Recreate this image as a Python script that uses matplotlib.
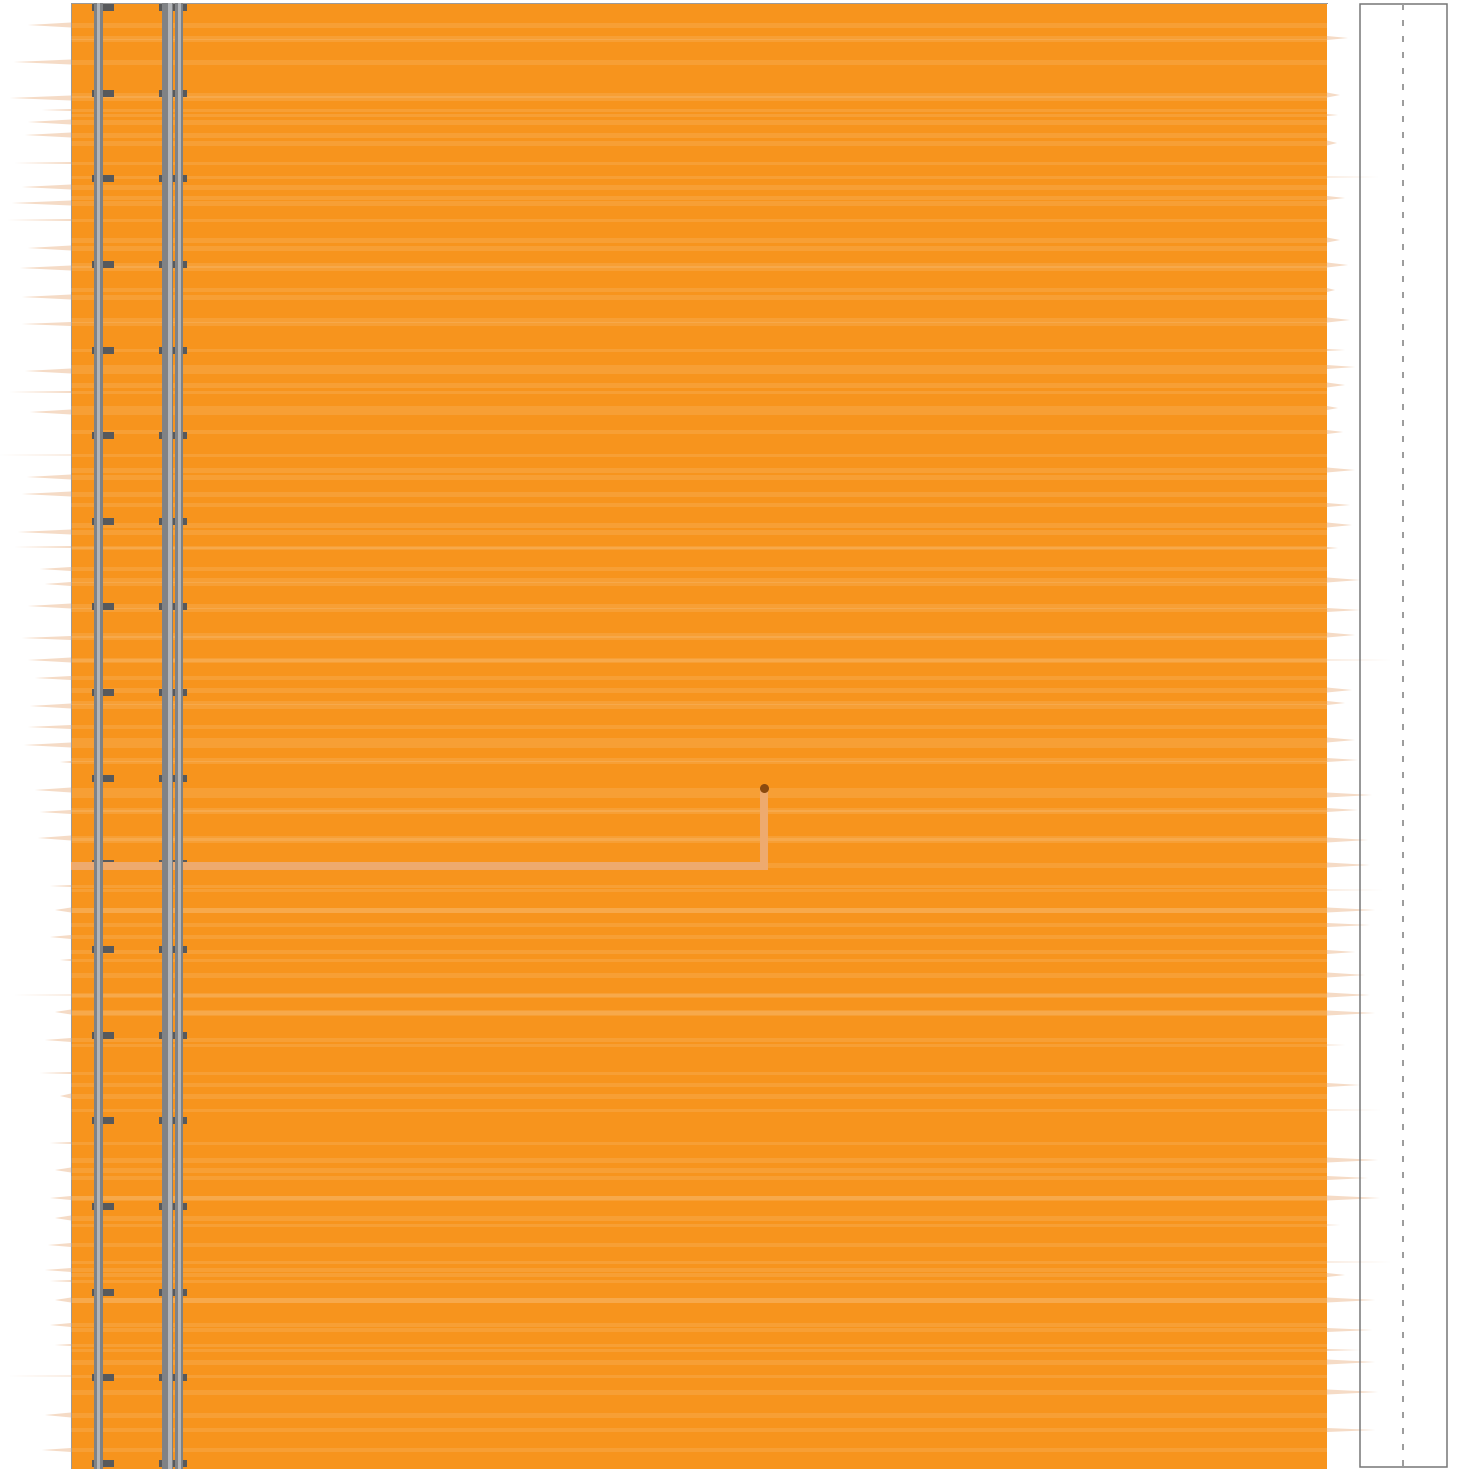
import numpy as np
import matplotlib.pyplot as plt
from matplotlib.patches import Rectangle, Polygon

# canvas in pixel units
W, H = 1462, 1469

# orange plank
plank_x = [71, 1327]
plank_y = [3, 1469]

# grain streaks that run out past the left edge: (y, left end, thickness px)
left_y = [25, 40, 62, 98, 110, 122, 135, 163, 187, 203, 220, 248, 268, 297,
          324, 371, 392, 412, 455, 477, 494, 532, 547, 569, 584, 606, 638,
          660, 678, 706, 727, 745, 762, 790, 812, 838, 886, 910, 937, 960,
          995, 1012, 1040, 1073, 1096, 1143, 1170, 1198, 1218, 1245, 1270,
          1281, 1300, 1325, 1345, 1376, 1415, 1450]
left_end = [28, 75, 14, 10, 42, 28, 25, 15, 22, 12, 8, 28, 20, 22,
            22, 25, 10, 30, 0, 27, 22, 18, 15, 40, 45, 28, 22,
            28, 35, 30, 28, 24, 60, 35, 40, 38, 50, 55, 50, 60,
            15, 55, 45, 40, 60, 50, 55, 50, 55, 48, 45,
            50, 55, 50, 55, 10, 45, 42]
left_w = [5, 2, 5, 5, 2, 5, 5, 2, 5, 5, 2, 5, 5, 5,
          4, 5, 2, 5, 1, 5, 5, 5, 2, 4, 4, 5, 4,
          5, 4, 5, 4, 5, 2, 5, 4, 5, 2, 5, 4, 2,
          1, 5, 4, 2, 5, 2, 5, 4, 5, 4, 4,
          2, 5, 4, 2, 1, 5, 4]

# grain streaks that run out past the right edge
right_y = [38, 95, 115, 143, 177, 198, 240, 265, 290, 320, 350, 367, 385,
           408, 432, 470, 505, 525, 548, 580, 610, 635, 660, 690, 703, 740,
           760, 795, 810, 840, 865, 890, 910, 925, 952, 975, 995, 1013, 1045,
           1085, 1110, 1160, 1178, 1198, 1225, 1262, 1275, 1300, 1330, 1350,
           1362, 1392, 1430]
right_end = [1348, 1340, 1338, 1337, 1378, 1345, 1340, 1348, 1335, 1350,
             1345, 1355, 1345, 1338, 1343, 1355, 1350, 1352, 1338, 1360,
             1360, 1355, 1390, 1352, 1345, 1355, 1358, 1372, 1358, 1368,
             1370, 1382, 1375, 1370, 1355, 1365, 1370, 1375, 1345, 1360,
             1380, 1378, 1368, 1380, 1340, 1390, 1345, 1375, 1372, 1360,
             1375, 1378, 1375]
right_w = [4, 5, 2, 5, 1, 4, 5, 5, 4, 5, 2, 4, 5, 4, 4, 5, 4, 5, 2, 5,
           4, 5, 1, 5, 4, 5, 4, 5, 4, 5, 5, 1, 5, 4, 4, 5, 5, 5, 1, 4,
           1, 5, 4, 5, 1, 1, 4, 5, 4, 2, 5, 5, 4]

# railway: ties and rails
tie_y = [7, 93, 178, 264, 350, 435, 521, 606, 692, 778, 863, 949, 1035,
         1120, 1206, 1292, 1377, 1463]
tie_x = [(92, 114), (159, 187)]
rail_x = [(94, 103), (162, 173), (175, 183)]
rail_hi = [(97, 100), (168, 172), (178, 181)]

# route and stop
path_x = [71, 764, 764]
path_y = [866, 866, 790]
stop = (764, 788)

# side box with dashed centre line
box_x = [1360, 1447]
box_y = [4, 1467]
box_mid = 1403

ORANGE = "#f7941d"
PEACH = "#f5dbc6"
px = 0.72  # points per pixel at dpi 100

fig = plt.figure(figsize=(W / 100, H / 100), dpi=100)
ax = fig.add_axes([0, 0, 1, 1])
ax.set_xlim(0, W)
ax.set_ylim(H, 0)
ax.axis("off")

# streak tails outside the plank
for y, x0, w in zip(left_y, left_end, left_w):
    ax.add_patch(Polygon([(x0, y), (plank_x[0], y - w / 2), (plank_x[0], y + w / 2)],
                         closed=True, color=PEACH, lw=0, zorder=1))
for y, x1, w in zip(right_y, right_end, right_w):
    ax.add_patch(Polygon([(x1, y), (plank_x[1], y - w / 2), (plank_x[1], y + w / 2)],
                         closed=True, color=PEACH, lw=0, zorder=4))

# plank
ax.add_patch(Rectangle((plank_x[0], plank_y[0]), plank_x[1] - plank_x[0],
                       plank_y[1] - plank_y[0], facecolor=ORANGE, edgecolor="none", zorder=2))
ax.plot([plank_x[0], plank_x[0], plank_x[1]], [plank_y[1], plank_y[0], plank_y[0]],
        color="#9a9a9a", lw=1 * px, zorder=2.1)

# grain inside the plank
for y, w in zip(left_y + right_y, left_w + right_w):
    ax.plot(plank_x, [y, y], color="white", alpha=0.11, lw=max(w, 3) * px,
            solid_capstyle="butt", zorder=3)

# ties
for y in tie_y:
    for x0, x1 in tie_x:
        ax.add_patch(Rectangle((x0, y - 3.5), x1 - x0, 7, facecolor="#58595b",
                               edgecolor="none", zorder=5))

# route
ax.plot(path_x, path_y, color="#eeaa6e", lw=8 * px, solid_joinstyle="miter",
        solid_capstyle="butt", zorder=6)
ax.plot(*stop, "o", color="#8b4a0f", ms=9 * px, mec="none", zorder=7)

# rails
for (x0, x1), (h0, h1) in zip(rail_x, rail_hi):
    ax.add_patch(Rectangle((x0, plank_y[0]), x1 - x0, plank_y[1] - plank_y[0],
                           facecolor="#808285", edgecolor="none", zorder=8))
    ax.add_patch(Rectangle((h0, plank_y[0]), h1 - h0, plank_y[1] - plank_y[0],
                           facecolor="#b3b5b8", edgecolor="none", zorder=8.1))

# side box
ax.add_patch(Rectangle((box_x[0], box_y[0]), box_x[1] - box_x[0], box_y[1] - box_y[0],
                       facecolor="none", edgecolor="#767676", lw=1.5 * px, zorder=9))
ax.plot([box_mid, box_mid], box_y, color="#9d9d9d", lw=2 * px,
        dashes=(6 / 2, 10 / 2), zorder=9)

fig.savefig("out.png", dpi=100)
